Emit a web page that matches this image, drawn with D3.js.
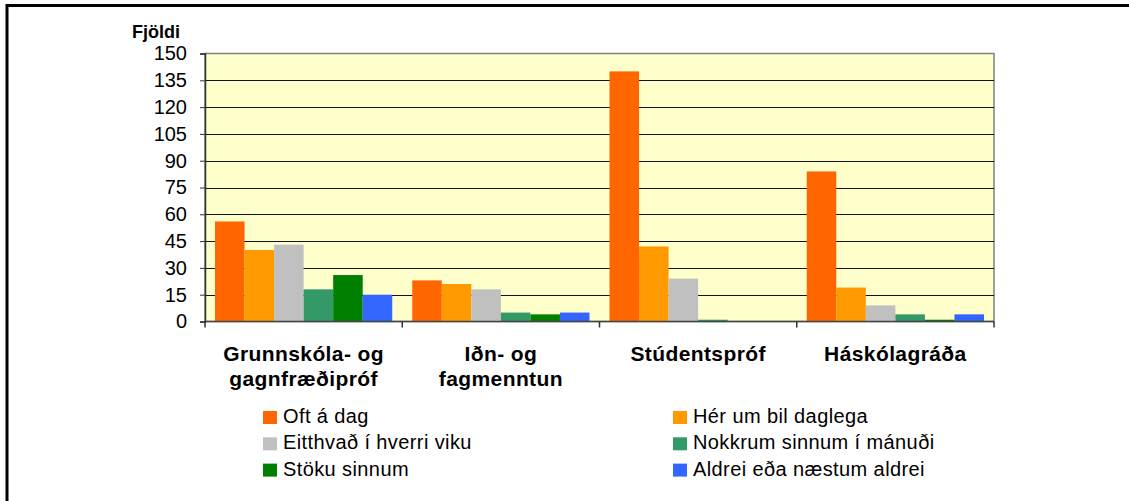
<!DOCTYPE html>
<html>
<head>
<meta charset="utf-8">
<script src="https://cdn.jsdelivr.net/npm/d3@7"></script>
<style>
  body { margin: 0; background: #fff; }
  text { font-family: "Liberation Sans", Arial, sans-serif; }
</style>
</head>
<body>
<div id="main"></div>
<script>

// categories (two-line labels)
var categories = [
  ["Grunnskóla- og", "gagnfræðipróf"],
  ["Iðn- og", "fagmenntun"],
  ["Stúdentspróf"],
  ["Háskólagráða"]
];
var seriesNames = [
  "Oft á dag",
  "Hér um bil daglega",
  "Eitthvað í hverri viku",
  "Nokkrum sinnum í mánuði",
  "Stöku sinnum",
  "Aldrei eða næstum aldrei"
];
var seriesColors = ["#ff6600", "#ff9900", "#c0c0c0", "#339966", "#008000", "#3366ff"];

// values per series, one per category
var oftADag      = [56, 23, 140, 84];
var herUmBil     = [40, 21, 42, 19];
var eitthvad     = [43, 18, 24, 9];
var nokkrum      = [18, 5, 1, 4];
var stoku        = [26, 4, 0, 1];
var aldrei       = [15, 5, 0, 4];
var yTicks = [0, 15, 30, 45, 60, 75, 90, 105, 120, 135, 150];

var allSeries = [oftADag, herUmBil, eitthvad, nokkrum, stoku, aldrei];

var w = 1129, h = 501;
var plotL = 205, plotR = 994, plotT = 53.5, plotB = 321.5;

var svg = d3.select("#main").append("svg")
    .attr("width", w)
    .attr("height", h);

// outer frame
svg.append("rect")
    .attr("x", 7).attr("y", 5.5)
    .attr("width", 1130).attr("height", 520)
    .attr("fill", "none")
    .attr("stroke", "#000")
    .attr("stroke-width", 3);

var x0 = d3.scaleBand()
    .domain(d3.range(categories.length))
    .range([plotL, plotR]);

var x1 = d3.scaleBand()
    .domain(d3.range(seriesNames.length))
    .range([10, x0.bandwidth() - 10]);

var y = d3.scaleLinear()
    .domain([0, 150])
    .range([plotB, plotT]);

// plot background
svg.append("rect")
    .attr("x", plotL).attr("y", plotT)
    .attr("width", plotR - plotL).attr("height", plotB - plotT)
    .attr("fill", "#ffffcc")
    .attr("stroke", "#808080")
    .attr("stroke-width", 1.5);

// gridlines
svg.append("g")
  .selectAll("line")
  .data(yTicks.filter(function(d) { return d > 0 && d < 150; }))
  .enter()
  .append("line")
    .attr("x1", plotL).attr("x2", plotR)
    .attr("y1", function(d) { return Math.round(y(d)) + 0.5; })
    .attr("y2", function(d) { return Math.round(y(d)) + 0.5; })
    .attr("stroke", "#111")
    .attr("stroke-width", 1);

// bars
var groups = svg.append("g")
  .selectAll("g")
  .data(categories)
  .enter()
  .append("g")
    .attr("transform", function(d, i) { return "translate(" + x0(i) + ",0)"; });

groups.selectAll("rect")
  .data(function(d, i) {
    return allSeries.map(function(s, j) { return { s: j, value: s[i] }; });
  })
  .enter()
  .append("rect")
    .attr("x", function(d) { return x1(d.s); })
    .attr("y", function(d) { return y(d.value); })
    .attr("width", x1.bandwidth())
    .attr("height", function(d) { return y(0) - y(d.value); })
    .attr("fill", function(d) { return seriesColors[d.s]; });

// y axis
var yAxis = d3.axisLeft(y)
    .tickValues(yTicks)
    .tickSize(5)
    .tickPadding(13);

var gy = svg.append("g")
    .attr("transform", "translate(" + plotL + ",0)")
    .call(yAxis);
gy.select(".domain").attr("stroke", "#333").attr("stroke-width", 1.5);
gy.selectAll(".tick line").attr("stroke", "#333");
gy.selectAll(".tick text")
    .attr("font-size", 20)
    .attr("fill", "#000")
    .style("font-family", "'Liberation Sans', Arial, sans-serif");

// x axis baseline + ticks at group boundaries
svg.append("line")
    .attr("x1", plotL).attr("x2", plotR)
    .attr("y1", plotB).attr("y2", plotB)
    .attr("stroke", "#444").attr("stroke-width", 1.5);

svg.append("g")
  .selectAll("line")
  .data(d3.range(categories.length + 1))
  .enter()
  .append("line")
    .attr("x1", function(d) { return plotL + d * x0.bandwidth(); })
    .attr("x2", function(d) { return plotL + d * x0.bandwidth(); })
    .attr("y1", plotB).attr("y2", plotB + 6)
    .attr("stroke", "#333").attr("stroke-width", 1.5);

// category labels
var catText = svg.append("g")
  .selectAll("text")
  .data(categories)
  .enter()
  .append("text")
    .attr("x", function(d, i) { return x0(i) + x0.bandwidth() / 2; })
    .attr("y", 361)
    .attr("text-anchor", "middle")
    .attr("font-size", 21)
    .attr("font-weight", "bold")
    .attr("letter-spacing", 0.4);

catText.selectAll("tspan")
  .data(function(d) { return d; })
  .enter()
  .append("tspan")
    .attr("x", function() { return this.parentNode.getAttribute("x"); })
    .attr("dy", function(d, i) { return i === 0 ? 0 : 25; })
    .text(function(d) { return d; });

// y title
svg.append("text")
    .attr("x", 156).attr("y", 38)
    .attr("text-anchor", "middle")
    .attr("font-size", 18)
    .attr("font-weight", "bold")
    .text("Fjöldi");

// legend
var legend = svg.append("g")
  .selectAll("g")
  .data(seriesNames)
  .enter()
  .append("g")
    .attr("transform", function(d, i) {
      var col = i % 2, row = Math.floor(i / 2);
      return "translate(" + (col === 0 ? 263 : 673) + "," + (423 + row * 26.3) + ")";
    });

legend.append("rect")
    .attr("x", 0).attr("y", -12)
    .attr("width", 14).attr("height", 13)
    .attr("fill", function(d, i) { return seriesColors[i]; });

legend.append("text")
    .attr("x", 20).attr("y", 0)
    .attr("font-size", 20)
    .attr("letter-spacing", 0.4)
    .text(function(d) { return d; });

</script>
</body>
</html>
